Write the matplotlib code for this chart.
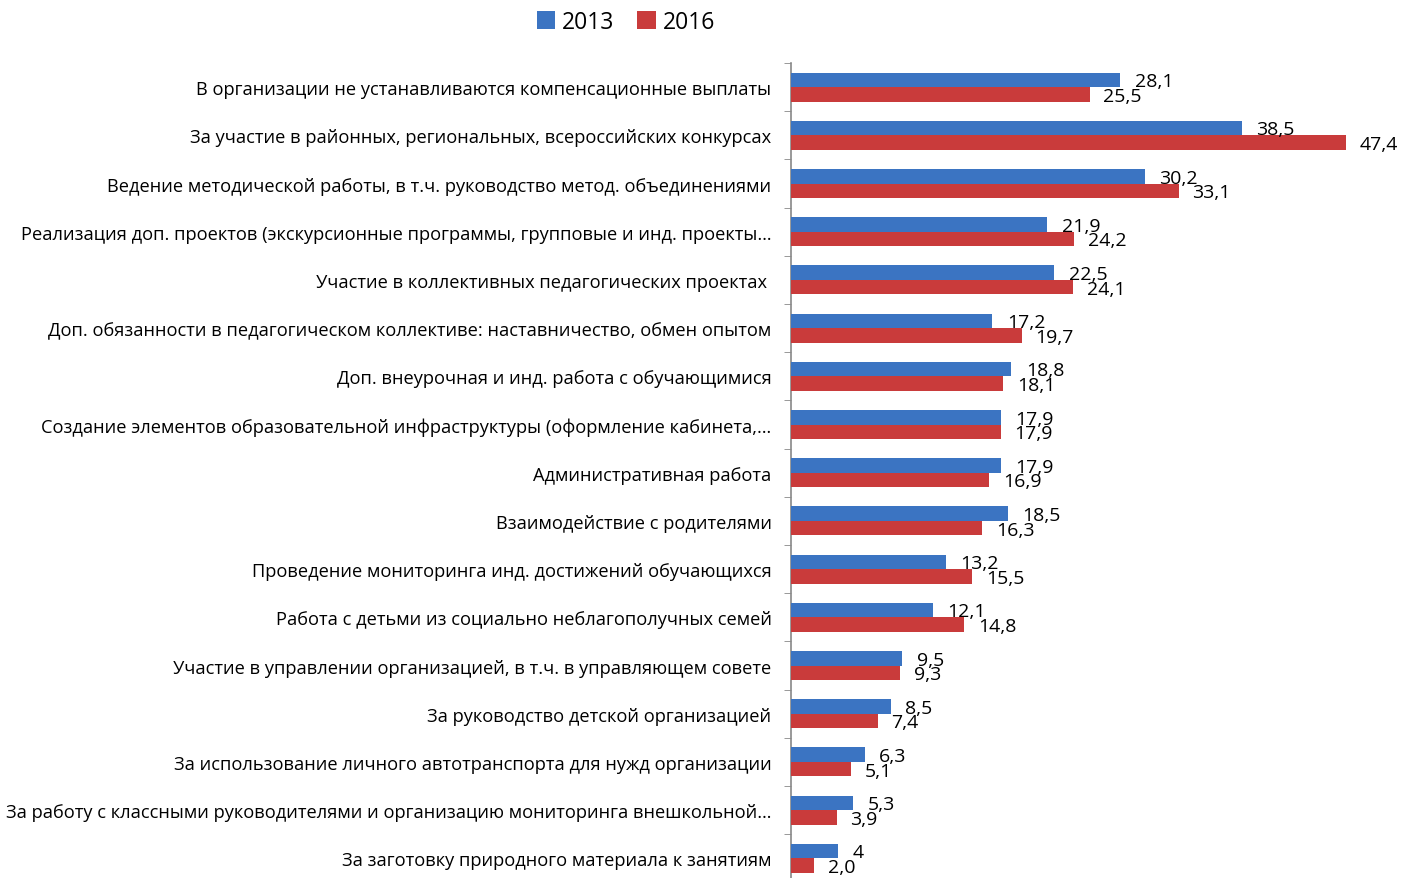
import matplotlib
matplotlib.use("Agg")
import matplotlib.pyplot as plt
import numpy as np

categories = [
    "В организации не устанавливаются компенсационные выплаты",
    "За участие в районных, региональных, всероссийских конкурсах",
    "Ведение методической работы, в т.ч. руководство метод. объединениями",
    "Реализация доп. проектов (экскурсионные программы, групповые и инд. проекты…",
    "Участие в коллективных педагогических проектах ",
    "Доп. обязанности в педагогическом коллективе: наставничество, обмен опытом",
    "Доп. внеурочная и инд. работа с обучающимися",
    "Создание элементов образовательной инфраструктуры (оформление кабинета,…",
    "Административная работа",
    "Взаимодействие с родителями",
    "Проведение мониторинга инд. достижений обучающихся",
    "Работа с детьми из социально неблагополучных семей",
    "Участие в управлении организацией, в т.ч. в управляющем совете",
    "За руководство детской организацией",
    "За использование личного автотранспорта для нужд организации",
    "За работу с классными руководителями и организацию мониторинга внешкольной…",
    "За заготовку природного материала к занятиям",
]
values_2013 = [28.1, 38.5, 30.2, 21.9, 22.5, 17.2, 18.8, 17.9, 17.9, 18.5, 13.2, 12.1, 9.5, 8.5, 6.3, 5.3, 4.0]
values_2016 = [25.5, 47.4, 33.1, 24.2, 24.1, 19.7, 18.1, 17.9, 16.9, 16.3, 15.5, 14.8, 9.3, 7.4, 5.1, 3.9, 2.0]
labels_2013 = ["28,1", "38,5", "30,2", "21,9", "22,5", "17,2", "18,8", "17,9", "17,9", "18,5", "13,2", "12,1", "9,5", "8,5", "6,3", "5,3", "4"]
labels_2016 = ["25,5", "47,4", "33,1", "24,2", "24,1", "19,7", "18,1", "17,9", "16,9", "16,3", "15,5", "14,8", "9,3", "7,4", "5,1", "3,9", "2,0"]
series_names = ["2013", "2016"]

BLUE = "#3b74c2"
RED = "#c93b3b"

W, H = 1401, 879
fig = plt.figure(figsize=(W / 100, H / 100), dpi=100)
fig.patch.set_facecolor("white")

n = len(categories)
ax_left = 791 / W
ax_right = 1346 / W
top_px = 64
spacing = 48.2
bottom_px = top_px + n * spacing
ax = fig.add_axes([ax_left, 1 - bottom_px / H, ax_right - ax_left, (bottom_px - top_px) / H])
ax.set_xlim(0, 47.4)
ax.set_ylim(n - 0.5, -0.5)

y = np.arange(n)
bh = 0.3
ax.barh(y - bh / 2, values_2013, height=bh, color=BLUE, label=series_names[0], zorder=3)
ax.barh(y + bh / 2, values_2016, height=bh, color=RED, label=series_names[1], zorder=3)

lab_font = dict(family=["Open Sans", "DejaVu Sans"], fontsize=14, color="black")
for i in range(n):
    ax.annotate(labels_2013[i], (values_2013[i], y[i] - bh / 2), xytext=(10.5, -1),
                textcoords="offset points", ha="left", va="center", clip_on=False, zorder=5, **lab_font)
    ax.annotate(labels_2016[i], (values_2016[i], y[i] + bh / 2), xytext=(10, -1),
                textcoords="offset points", ha="left", va="center", clip_on=False, zorder=5, **lab_font)

ax.set_yticks(y)
ax.set_yticklabels(categories, family=["Open Sans", "DejaVu Sans"], fontsize=13.15)
ax.tick_params(axis="y", length=0, pad=14)
ax.set_yticks(np.arange(n + 1) - 0.5, minor=True)
ax.tick_params(axis="y", which="minor", length=5, direction="out", color="#888888")
ax.set_xticks([])
for s in ["top", "right", "bottom"]:
    ax.spines[s].set_visible(False)
ax.spines["left"].set_color("#888888")
ax.spines["left"].set_linewidth(1.2)
ax.set_facecolor("none")

leg = fig.legend(loc="upper center", bbox_to_anchor=(626 / W, 1.003), ncol=2, frameon=False,
                 prop={"family": ["Open Sans", "DejaVu Sans"], "size": 16.5},
                 handlelength=0.8, handleheight=0.8, handletextpad=0.3, columnspacing=1.0,
                 borderaxespad=0.2)

fig.savefig("out.png", dpi=100)
